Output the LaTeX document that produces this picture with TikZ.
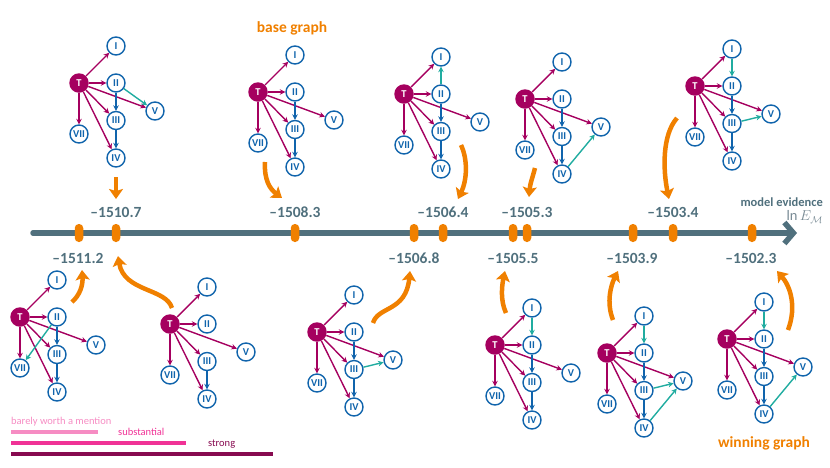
\documentclass[tikz,border=0pt]{standalone}
\usepackage{fontspec}
\setmainfont{Carlito}
\usetikzlibrary{arrows.meta,positioning}

\definecolor{tcol}{RGB}{165,0,95}
\definecolor{vcol}{RGB}{16,100,172}
\definecolor{newcol}{RGB}{32,172,160}
\definecolor{evcol}{RGB}{240,128,0}
\definecolor{axcol}{RGB}{80,112,125}
\definecolor{lncol}{RGB}{120,138,148}
\definecolor{weakcol}{RGB}{246,140,195}
\definecolor{midcol}{RGB}{240,50,150}
\definecolor{strongcol}{RGB}{135,10,80}

\tikzset{
  tnode/.style={circle, fill=tcol, text=white, minimum size=19.5pt, inner sep=0pt,
    font=\fontsize{10.5}{10}\selectfont\bfseries},
  vnode/.style={circle, draw=vcol, fill=white, line width=1.4pt, text=vcol,
    minimum size=18pt, inner sep=0pt, font=\fontsize{10.5}{10}\selectfont\bfseries},
  tedge/.style={draw=tcol, line width=1.4pt, -{Stealth[length=5.5pt,width=5.5pt]}},
  vedge/.style={draw=vcol, line width=1.4pt, -{Stealth[length=5.5pt,width=5.5pt]}},
  nedge/.style={draw=newcol, line width=1.4pt, -{Stealth[length=5.5pt,width=5.5pt]}},
  evarrow/.style={draw=evcol, line width=4.5pt, -{Stealth[length=10pt,width=14pt,inset=2pt]}},
  tickmark/.style={rectangle, rounded corners=4pt, fill=evcol, minimum width=8.5pt,
    minimum height=18pt, inner sep=0pt},
  evlab/.style={text=axcol, inner sep=0pt, font=\fontsize{15.5}{16}\selectfont\bfseries},
  graphlab/.style={text=evcol, inner sep=0pt, font=\fontsize{15.5}{16}\selectfont\bfseries},
  leglab/.style={anchor=west, inner sep=0pt, font=\fontsize{10.5}{11}\selectfont},
  legbar/.style={line width=3.5pt}
}

% common part of every graph: T, the seven nodes and the edges from T
\newcommand{\dagnodes}{%
  \node[tnode] (T) at (0,0) {T};
  \node[vnode] (I) at (37,-37) {I};
  \node[vnode] (II) at (37,0) {II};
  \node[vnode] (III) at (37,37.5) {III};
  \node[vnode] (IV) at (37,75) {IV};
  \node[vnode] (V) at (76,28) {V};
  \node[vnode] (VII) at (0,51) {VII};
  \foreach \n in {I,II,III,IV,V,VII} \draw[tedge] (T) -- (\n);
  \draw[vedge] (III) -- (IV);
}

\begin{document}
\begin{tikzpicture}[x=1pt,y=-1pt]
  \useasboundingbox (0,0) rectangle (830,467);

  % Axis (model evidence)
  \coordinate (axstart) at (33,233);
  \coordinate (axend) at (797,233);
  \draw[axcol, line width=5.5pt, line cap=round,
    -{Straight Barb[length=9pt,width=21pt]}] (axstart) -- (axend);
  \node[anchor=east, text=axcol, inner sep=0pt, font=\fontsize{12.5}{13}\selectfont\bfseries]
    (evtitle) at (823,202) {model evidence};
  \node[anchor=east, text=lncol, inner sep=0pt, font=\fontsize{14.5}{15}\selectfont]
    (evsym) at (823,217) {$\ln E_{\mathcal{M}}$};

  % Ticks and values
  \foreach \x [count=\i] in {79,116,295,414,443,513,527,633,673,752}
    \node[tickmark] (t\i) at (\x,233) {};
  \node[evlab] (e2) at (116,212) {–1510.7};
  \node[evlab] (e3) at (295,212) {–1508.3};
  \node[evlab] (e5) at (443,212) {–1506.4};
  \node[evlab] (e7) at (527,212) {–1505.3};
  \node[evlab] (e9) at (673,212) {–1503.4};
  \node[evlab] (e1) at (78,258) {–1511.2};
  \node[evlab] (e4) at (414,258) {–1506.8};
  \node[evlab] (e6) at (513,258) {–1505.5};
  \node[evlab] (e8) at (632,258) {–1503.9};
  \node[evlab] (e10) at (751,258) {–1502.3};

  % Graphs above the axis
  \begin{scope}[shift={(79,83)}, name prefix=ga-]
    \dagnodes
    \draw[vedge] (II) -- (III);
    \draw[nedge] (II) -- (V);
  \end{scope}
  \begin{scope}[shift={(258,92)}, name prefix=gb-]
    \dagnodes
    \draw[vedge] (II) -- (III);
  \end{scope}
  \begin{scope}[shift={(404,94)}, name prefix=gc-]
    \dagnodes
    \draw[vedge] (II) -- (III);
    \draw[nedge] (II) -- (I);
  \end{scope}
  \begin{scope}[shift={(525,99)}, name prefix=gd-]
    \dagnodes
    \draw[vedge] (II) -- (III);
    \draw[nedge] (IV) -- (V);
  \end{scope}
  \begin{scope}[shift={(695,86)}, name prefix=ge-]
    \dagnodes
    \draw[vedge] (II) -- (III);
    \draw[nedge] (I) -- (II);
    \draw[nedge] (III) -- (V);
  \end{scope}

  % Graphs below the axis
  \begin{scope}[shift={(20,317)}, name prefix=gf-]
    \dagnodes
    \draw[vedge] (II) -- (III);
    \draw[nedge] (II) -- (VII);
  \end{scope}
  \begin{scope}[shift={(170,324)}, name prefix=gg-]
    \dagnodes
  \end{scope}
  \begin{scope}[shift={(317,332)}, name prefix=gh-]
    \dagnodes
    \draw[vedge] (II) -- (III);
    \draw[nedge] (III) -- (V);
  \end{scope}
  \begin{scope}[shift={(495,345)}, name prefix=gi-]
    \dagnodes
    \draw[vedge] (II) -- (III);
    \draw[nedge] (I) -- (II);
  \end{scope}
  \begin{scope}[shift={(607,353)}, name prefix=gj-]
    \dagnodes
    \draw[vedge] (II) -- (III);
    \draw[nedge] (I) -- (II);
    \draw[nedge] (III) -- (V);
    \draw[nedge] (IV) -- (V);
  \end{scope}
  \begin{scope}[shift={(727,339)}, name prefix=gk-]
    \dagnodes
    \draw[vedge] (II) -- (III);
    \draw[nedge] (I) -- (II);
    \draw[nedge] (IV) -- (V);
  \end{scope}

  \node[graphlab] (basetxt) at (292,28) {base graph};
  \node[graphlab] (wintxt) at (764,443) {winning graph};

  % Arrows from the graphs to their values
  \coordinate (a1s) at (116,177);  \coordinate (a1e) at (116,199);
  \coordinate (a2s) at (265,162);  \coordinate (a2e) at (282,198);
  \coordinate (a3s) at (461,145);  \coordinate (a3e) at (458,199);
  \coordinate (a4s) at (535,168);  \coordinate (a4e) at (529,197);
  \coordinate (a5s) at (677,118);  \coordinate (a5e) at (669,199);
  \coordinate (a6s) at (72,302);   \coordinate (a6e) at (82,270);
  \coordinate (a7s) at (172,308);  \coordinate (a7e) at (118,256);
  \coordinate (a8s) at (373,323);  \coordinate (a8e) at (410,271);
  \coordinate (a9s) at (506,313);  \coordinate (a9e) at (505,271);
  \coordinate (a10s) at (613,320); \coordinate (a10e) at (618,271);
  \coordinate (a11s) at (788,330); \coordinate (a11e) at (777,271);
  \draw[evarrow] (a1s) -- (a1e);
  \draw[evarrow] (a2s) .. controls (264,180) and (270,189) .. (a2e);
  \draw[evarrow] (a3s) .. controls (468,160) and (467,180) .. (a3e);
  \draw[evarrow] (a4s) .. controls (533,176) and (530,184) .. (a4e);
  \draw[evarrow] (a5s) .. controls (662,135) and (663,170) .. (a5e);
  \draw[evarrow] (a6s) .. controls (80,295) and (83,285) .. (a6e);
  \draw[evarrow] (a7s) .. controls (166,288) and (124,292) .. (a7e);
  \draw[evarrow] (a8s) .. controls (378,306) and (406,312) .. (a8e);
  \draw[evarrow] (a9s) .. controls (500,300) and (502,285) .. (a9e);
  \draw[evarrow] (a10s) .. controls (606,302) and (611,285) .. (a10e);
  \draw[evarrow] (a11s) .. controls (797,306) and (790,286) .. (a11e);

  % Legend
  \node[leglab, text=weakcol] (lweak) at (11,422) {barely worth a mention};
  \draw[legbar, weakcol] (11,432) -- (98,432);
  \node[leglab, text=midcol] (lmid) at (118,432) {substantial};
  \draw[legbar, midcol] (11,443) -- (186,443);
  \node[leglab, text=strongcol] (lstrong) at (208,444) {strong};
  \draw[legbar, strongcol] (11,454) -- (273,454);
\end{tikzpicture}
\end{document}
